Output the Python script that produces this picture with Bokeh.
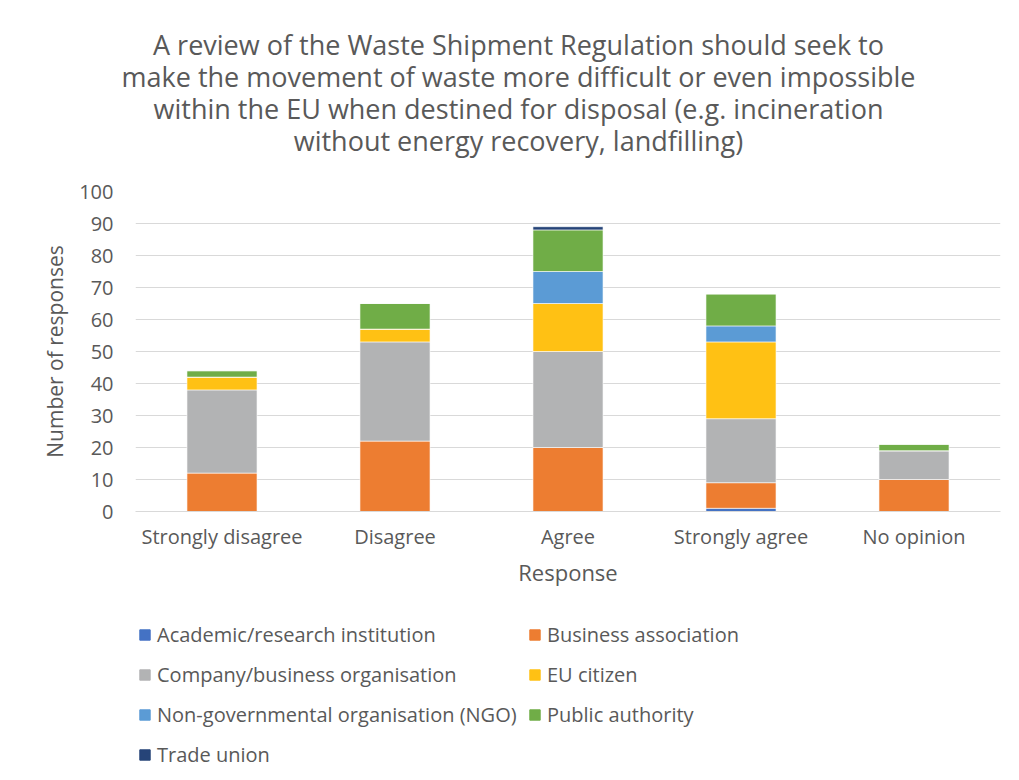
from bokeh.plotting import figure
from bokeh.layouts import column, row
from bokeh.models import Range1d, FactorRange, Legend, LegendItem
from bokeh.core.properties import value
from bokeh.embed import file_html
from bokeh.resources import INLINE

categories = ["Strongly disagree", "Disagree", "Agree", "Strongly agree", "No opinion"]
series_names = ["Academic/research institution", "Business association",
                "Company/business organisation", "EU citizen",
                "Non-governmental organisation (NGO)", "Public authority", "Trade union"]
academic = [0, 0, 0, 1, 0]
business = [12, 22, 20, 8, 10]
company = [26, 31, 30, 20, 9]
eu_citizen = [4, 4, 15, 24, 0]
ngo = [0, 0, 10, 5, 0]
public_auth = [2, 8, 13, 10, 2]
trade_union = [0, 0, 1, 0, 0]
y_ticks = list(range(0, 101, 10))
title_lines = ["A review of the Waste Shipment Regulation should seek to",
               "make the movement of waste more difficult or even impossible",
               "within the EU when destined for disposal (e.g. incineration",
               "without energy recovery, landfilling)"]

colors = ["#4472C4", "#ED7D31", "#B2B3B4", "#FFC114", "#5B9BD5", "#70AD47", "#264478"]
keys = ["academic", "business", "company", "eu", "ngo", "public", "union"]
data = {"cat": categories, "academic": academic, "business": business, "company": company,
        "eu": eu_citizen, "ngo": ngo, "public": public_auth, "union": trade_union}

FONT = "Open Sans"
TXT = "#595959"
W = 1011
frame_left, frame_right = 135, 1000

# ---------------- title strip (own full-width frame, wrapped in a row) ----------------
H1 = 170
pt = figure(width=W, height=H1, x_range=Range1d(0, W), y_range=Range1d(H1, 0),
            output_backend="svg", toolbar_location=None, x_axis_type=None, y_axis_type=None,
            min_border_left=0, min_border_right=0, min_border_top=0, min_border_bottom=0)
pt.outline_line_color = None
pt.xgrid.visible = False
pt.ygrid.visible = False
pt.text(x=[518] * len(title_lines), y=[44, 76, 108, 140], text=title_lines,
        text_align="center", text_baseline="middle", text_font=value(FONT),
        text_font_size="27px", text_color=TXT)

# ---------------- main chart ----------------
H2 = 430
top_border = 191 - H1
bottom_border = H2 - (511 - H1)

p = figure(width=W, height=H2, x_range=FactorRange(*categories), y_range=Range1d(0, 100),
           output_backend="svg", toolbar_location=None,
           min_border_left=frame_left, min_border_right=W - frame_right,
           min_border_top=top_border, min_border_bottom=bottom_border)
p.outline_line_color = None

renderers = p.vbar_stack(keys, x="cat", width=0.405, color=colors, source=data,
                         line_color="white", line_width=0.6)

p.xgrid.grid_line_color = None
p.ygrid.grid_line_color = "#D9D9D9"
p.ygrid.grid_line_width = 1
p.yaxis.ticker = y_ticks
p.yaxis.axis_line_color = None
p.yaxis.major_tick_line_color = None
p.yaxis.minor_tick_line_color = None
p.yaxis.major_tick_out = 0
p.yaxis.major_label_standoff = 22
p.yaxis.major_label_text_font = FONT
p.yaxis.major_label_text_font_size = "20px"
p.yaxis.major_label_text_color = TXT
p.yaxis.axis_label = "Number of responses"
p.yaxis.axis_label_text_font = FONT
p.yaxis.axis_label_text_font_size = "21px"
p.yaxis.axis_label_text_font_style = "normal"
p.yaxis.axis_label_text_color = TXT
p.yaxis.axis_label_standoff = 7

p.xaxis.axis_line_color = "#D9D9D9"
p.xaxis.major_tick_line_color = None
p.xaxis.major_tick_out = 0
p.xaxis.major_label_standoff = 11
p.xaxis.major_label_text_font = FONT
p.xaxis.major_label_text_font_size = "20px"
p.xaxis.major_label_text_color = TXT
p.xaxis.axis_label = "Response"
p.xaxis.axis_label_text_font = FONT
p.xaxis.axis_label_text_font_size = "22px"
p.xaxis.axis_label_text_font_style = "normal"
p.xaxis.axis_label_text_color = TXT
p.xaxis.axis_label_standoff = 4

# ---------------- legend strip (frame aligned with the chart frame) ----------------
H3 = 172
pl = figure(width=W, height=H3, x_range=Range1d(0, 1), y_range=Range1d(0, 1),
            output_backend="svg", toolbar_location=None, x_axis_type=None, y_axis_type=None,
            min_border_left=frame_left, min_border_right=W - frame_right, min_border_top=0,
            min_border_bottom=0)
pl.outline_line_color = None
pl.xgrid.visible = False
pl.ygrid.visible = False
# swatch renderers kept outside the visible range; they only feed the legend
swatches = [pl.vbar(x=[-5], top=[-5], bottom=[-6], width=0.1, color=c) for c in colors]

items = [LegendItem(label=n, renderers=[r]) for n, r in zip(series_names, swatches)]
col1 = [items[0], items[2], items[4], items[6]]
col2 = [items[1], items[3], items[5]]


def make_legend(its, loc):
    return Legend(items=its, location=loc, orientation="vertical",
                  glyph_width=13, glyph_height=13, label_height=20, spacing=13,
                  padding=0, margin=0, label_standoff=6,
                  label_text_font=FONT, label_text_font_size="20px", label_text_color=TXT,
                  border_line_color=None, background_fill_alpha=0)


pl.add_layout(make_legend(col1, (3, 4)), "center")
pl.add_layout(make_legend(col2, (393, 44)), "center")

layout = column(row(pt, spacing=0), p, pl, spacing=0)
open("out.html", "w").write(file_html(layout, INLINE))
